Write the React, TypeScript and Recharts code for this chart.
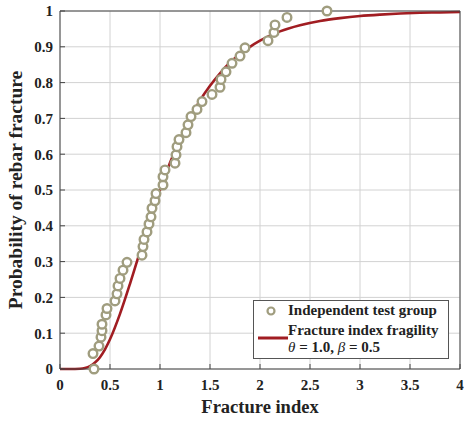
import {
  ComposedChart, Line, Scatter, XAxis, YAxis, CartesianGrid, Legend,
} from "recharts";

// fracture index of each specimen in the independent test group, and its empirical probability
const testIndex = [
  0.34, 0.33, 0.39, 0.41, 0.42, 0.42, 0.46, 0.47, 0.55, 0.57, 0.58, 0.60, 0.63, 0.67,
  0.82, 0.83, 0.84, 0.87, 0.89, 0.91, 0.92, 0.95, 0.96, 1.03, 1.03, 1.05, 1.15, 1.16,
  1.17, 1.19, 1.26, 1.28, 1.31, 1.37, 1.42, 1.52, 1.60, 1.61, 1.66, 1.72, 1.80, 1.85,
  2.08, 2.14, 2.15, 2.27, 2.67,
];
const testProb = [
  0.0, 0.043, 0.064, 0.089, 0.107, 0.125, 0.151, 0.169, 0.19, 0.21, 0.232, 0.253, 0.276, 0.298,
  0.318, 0.342, 0.362, 0.383, 0.405, 0.425, 0.449, 0.47, 0.49, 0.514, 0.537, 0.556, 0.575, 0.598,
  0.621, 0.641, 0.66, 0.682, 0.705, 0.725, 0.747, 0.767, 0.787, 0.809, 0.83, 0.854, 0.874, 0.897,
  0.917, 0.94, 0.961, 0.982, 1.0,
];

// fragility curve
const curveIndex = [
  0, 0.1, 0.2, 0.25, 0.3, 0.35, 0.4, 0.45, 0.5, 0.6, 0.7, 0.8, 0.9, 1.0, 1.1, 1.2, 1.3,
  1.4, 1.5, 1.6, 1.7, 1.8, 1.9, 2.0, 2.2, 2.4, 2.6, 2.8, 3.0, 3.2, 3.4, 3.6, 3.8, 4.0,
];
const curveProb = [
  0, 0, 0.0006, 0.0028, 0.008, 0.018, 0.033, 0.055, 0.083, 0.154, 0.238, 0.328, 0.417, 0.5,
  0.576, 0.642, 0.7, 0.75, 0.791, 0.826, 0.856, 0.88, 0.9, 0.917, 0.943, 0.96, 0.972, 0.98,
  0.986, 0.99, 0.993, 0.995, 0.996, 0.997,
];

const xTicks = [0, 0.5, 1, 1.5, 2, 2.5, 3, 3.5, 4];
const yTicks = [0, 0.1, 0.2, 0.3, 0.4, 0.5, 0.6, 0.7, 0.8, 0.9, 1];

const testData = testIndex.map((x, i) => ({ x, p: testProb[i] }));
const curveData = curveIndex.map((x, i) => ({ x, p: curveProb[i] }));

const FONT = '"Liberation Serif", "DejaVu Serif", serif';
const RED = "#a11d22";
const OLIVE = "#a09d7f";
const FRAME = "#444";
const GRID = "#d2d2d2";
const tickStyle = { fontSize: 15, fontWeight: 700, fill: "#222", fontFamily: FONT };

const Ring = (props: any) => (
  <circle cx={props.cx} cy={props.cy} r={4.3} fill="#fff" stroke={OLIVE} strokeWidth={2.4} />
);

const LegendBox = () => (
  <div style={{
    border: "1px solid #555", background: "#fff", width: 194, height: 57,
    fontFamily: FONT, fontWeight: 700, fontSize: 15, lineHeight: "17px", color: "#222",
    position: "relative",
  }}>
    <svg width={34} height={50} style={{ position: "absolute", left: 2, top: 2 }}>
      <circle cx={15} cy={8} r={3.5} fill="#fff" stroke={OLIVE} strokeWidth={2.2} />
      <line x1={2} x2={32} y1={35} y2={35} stroke={RED} strokeWidth={3} />
    </svg>
    <div style={{ position: "absolute", left: 34, top: 1, whiteSpace: "nowrap" }}>Independent test group</div>
    <div style={{ position: "absolute", left: 34, top: 21, whiteSpace: "nowrap" }}>Fracture index fragility</div>
    <div style={{ position: "absolute", left: 34, top: 38, whiteSpace: "nowrap" }}>
      <i style={{ fontWeight: 400 }}>θ</i> = 1.0, <i style={{ fontWeight: 400 }}>β</i> = 0.5
    </div>
  </div>
);

export default function App() {
  return (
    <div style={{ position: "absolute", left: 0, top: 0, background: "#fff" }}>
      <ComposedChart width={465} height={423} margin={{ top: 10, right: 4, bottom: 24, left: 10 }}>
        <CartesianGrid stroke={GRID} strokeWidth={1} fill="none" />
        <XAxis
          type="number" dataKey="x" domain={[0, 4]} ticks={xTicks}
          tick={tickStyle} tickSize={-5} tickMargin={15} height={30}
          stroke={FRAME} tickLine={{ stroke: FRAME }}
          label={{ value: "Fracture index", position: "insideBottom", offset: -14,
            style: { fontSize: 18.5, fontWeight: 700, fill: "#222", fontFamily: FONT } }}
        />
        <XAxis
          xAxisId="t" orientation="top" type="number" dataKey="x" domain={[0, 4]} ticks={xTicks}
          tick={false} tickSize={-5} height={1} stroke={FRAME} tickLine={{ stroke: FRAME }}
        />
        <YAxis
          type="number" domain={[0, 1]} ticks={yTicks}
          tick={tickStyle} tickSize={-5} tickMargin={12} width={50}
          stroke={FRAME} tickLine={{ stroke: FRAME }}
          label={{ value: "Probability of rebar fracture", angle: -90, position: "insideLeft",
            offset: 5,
            style: { fontSize: 19.5, fontWeight: 700, fill: "#222", fontFamily: FONT, textAnchor: "middle" } }}
        />
        <YAxis
          yAxisId="r" orientation="right" type="number" domain={[0, 1]} ticks={yTicks}
          tick={false} tickSize={-5} width={1} stroke={FRAME} tickLine={{ stroke: FRAME }}
        />
        <Legend
          layout="vertical" align="center" verticalAlign="middle"
          content={<LegendBox />}
          wrapperStyle={{ position: "absolute", left: 253, top: 300, width: 196, height: 59 }}
        />
        <Line
          data={curveData} dataKey="p" type="monotone"
          stroke={RED} strokeWidth={2.6} dot={false} isAnimationActive={false}
        />
        <Scatter
          data={testData} dataKey="p" shape={<Ring />}
          isAnimationActive={false}
        />
      </ComposedChart>
    </div>
  );
}
